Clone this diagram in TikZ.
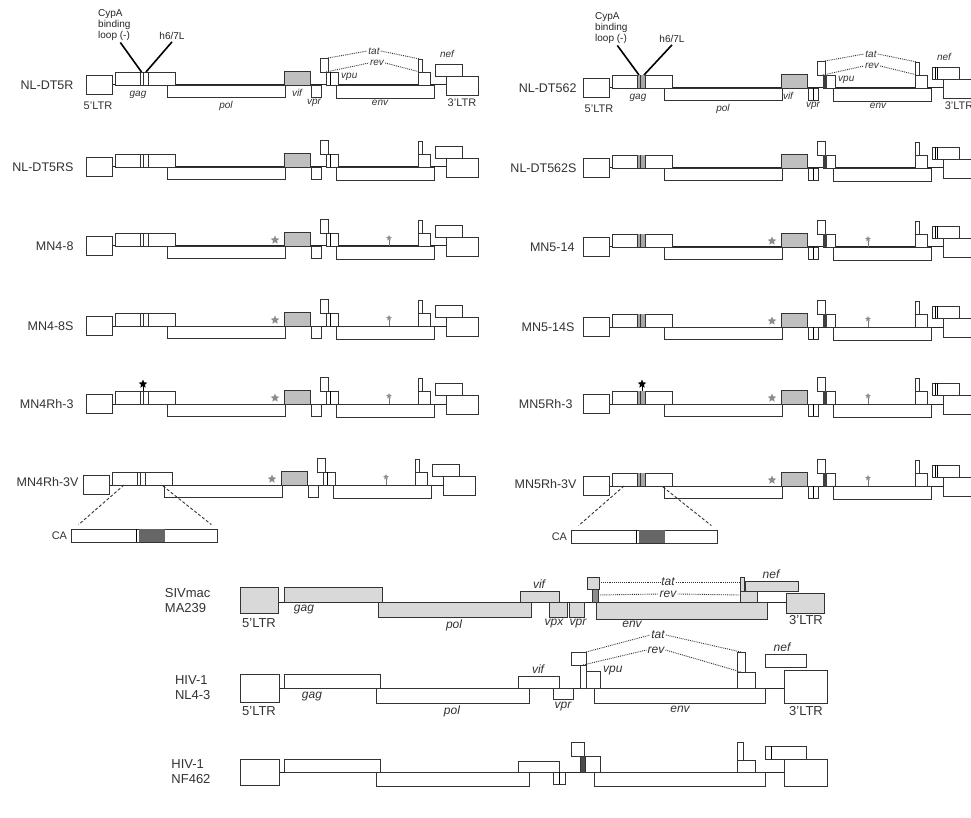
\documentclass[tikz,border=0pt]{standalone}
\usepackage{fontspec}
\setmainfont{Liberation Sans}
\usetikzlibrary{shapes.geometric, positioning}

% genome map of the upper panels: origin at the 5'LTR, baseline at y=0
% #1 = 0 for the NL4-3 type, 1 for the NL-DT562 type
\newcommand\hivmap[1]{%
  \draw[backbone] (26,0) -- (360,0);
  \draw[orf] (0,-10) rectangle (26,9);
  \draw[orf] (29,-13) rectangle (89,0);
  \ifnum#1=1 \fill[black!35] (55,-13) rectangle (62,0); \fi
  \draw[thin, black!80] (54,-13) -- (54,0) (57,-13) -- (57,0) (62,-13) -- (62,0);
  \draw[orf] (81,0) rectangle (199,12);
  \draw[orfgray] (198,-14) rectangle (224,0);
  \draw[orf] (225,0) rectangle (235,12);
  \ifnum#1=1 \draw[thin] (230,0) -- (230,12); \fi
  \draw[orf] (234,-27) rectangle (242,-13);
  \draw[orf] (240,-13) rectangle (252,0);
  \ifnum#1=1 \fill[black!75] (240,-13) rectangle (243.5,0); \else \draw[thin] (244,-13) -- (244,0); \fi
  \draw[orf] (250,0) rectangle (348,13);
  \draw[orf] (332,-26) rectangle (336,-13);
  \draw[orf] (332,-13) rectangle (344,0);
  \draw[orf] (349,-21) rectangle (376,-9);
  \ifnum#1=1 \draw[thin] (352,-21) -- (352,-9) (354.5,-21) -- (354.5,-9); \fi
  \draw[orf] (360,-9) rectangle (392,10);
}
% adaptive changes in pol and env
\newcommand\adaptmarks[1]{%
  \node[gstar] (polmark) at (189,-6) {};
  \draw[black!55, line width=0.8pt] (#1,-6) -- (#1,0);
  \node[gstar, minimum size=6pt] (envmark) at (#1,-8) {};
}
% CypA binding loop change
\newcommand\loopmark[1]{%
  \draw[black, line width=1pt] (#1,-13) -- (#1,-18);
  \node[bstar] (loopstar) at (#1,-20) {};
}
% capsid blow-up under the gag box
\newcommand\capsid{%
  \node[cabox] (cabox) at (61,50.5) {};
  \fill[black!60] (56,44) rectangle (82,57);
  \draw[thin] (53,44) -- (53,57);
  \node[rowname, font=\fontsize{11}{13}\selectfont] (calbl) at (cabox.west) {CA};
  \coordinate (caleft) at (41,0);
  \coordinate (caright) at (80,1);
  \draw[zoomline] (caleft) -- ([shift={(8,-4)}]cabox.north west);
  \draw[zoomline] (caright) -- ([shift={(-6,-4)}]cabox.north east);
}

\begin{document}
\begin{tikzpicture}[x=1pt, y=-1pt,
  backbone/.style={draw=black!85, line width=1pt},
  orf/.style={draw=black!80, line width=0.9pt, fill=white},
  orfgray/.style={orf, fill=black!25},
  sivorf/.style={orf, fill=black!15},
  cabox/.style={draw=black!80, line width=0.8pt, minimum width=146pt, minimum height=13pt, inner sep=0pt},
  rowname/.style={anchor=east, font=\fontsize{12.5}{14}\selectfont, text=black!80},
  bigname/.style={anchor=east, align=left, font=\fontsize{13}{15}\selectfont, text=black!80},
  gene/.style={font=\fontsize{10}{12}\selectfont\itshape, text=black!80, inner sep=1pt},
  ltr/.style={font=\fontsize{11}{13}\selectfont, text=black!80, inner sep=1pt},
  biggene/.style={font=\fontsize{12}{14}\selectfont\itshape, text=black!80, inner sep=1pt},
  bigltr/.style={font=\fontsize{13}{15}\selectfont, text=black!80, inner sep=1pt},
  note/.style={font=\fontsize{10}{11}\selectfont, text=black!85, inner sep=0pt},
  splice/.style={densely dotted, line width=0.9pt, draw=black!80},
  zoomline/.style={densely dashed, line width=0.9pt, draw=black!80},
  pointer/.style={line width=1.6pt, draw=black},
  gstar/.style={star, star points=5, star point ratio=2.2, fill=black!45, minimum size=9pt, inner sep=0pt},
  bstar/.style={star, star points=5, star point ratio=2.2, fill=black, minimum size=9pt, inner sep=0pt}]

  \fill[white] (0,0) rectangle (971,818);
  \clip (0,0) rectangle (971,818);

  % ---- left column ----
  \begin{scope}[shift={(86,85)}]
    \hivmap{0}
    \node[rowname] (nldtfiver) at (-9,0) {NL-DT5R};
    \node[note, align=left, anchor=north west] (cypa) at (12,-76) {CypA\\binding\\loop (-)};
    \node[note] (helix) at (86,-49) {h6/7L};
    \draw[pointer] ([xshift=6pt,yshift=-2pt]cypa.south) -- (55.5,-13);
    \draw[pointer] ([yshift=-2pt]helix.south) -- (60,-13);
    \node[ltr] (fltr) at (12,21) {5'LTR};
    \node[gene] (gag) at (52,10) {gag};
    \node[gene] (pol) at (140,21) {pol};
    \node[gene] (vif) at (211,8) {vif};
    \node[gene] (vpr) at (228,18) {vpr};
    \node[gene] (env) at (294,18) {env};
    \node[ltr] (tltr) at (376,18) {3'LTR};
    \node[gene, anchor=west] (vpu) at (254,-8) {vpu};
    \node[gene] (tat) at (288,-34) {tat};
    \node[gene] (rev) at (291,-22) {rev};
    \node[gene] (nef) at (361,-31) {nef};
    \draw[splice] (242,-27) -- (tat.west);
    \draw[splice] (tat.east) -- (334,-26);
    \draw[splice] (240,-13) -- (rev.west);
    \draw[splice] (rev.east) -- (334,-13);
  \end{scope}

  \begin{scope}[shift={(86,167)}]
    \hivmap{0}
    \node[rowname] (nldtfivers) at (-9,0) {NL-DT5RS};
  \end{scope}

  \begin{scope}[shift={(86,246)}]
    \hivmap{0}
    \adaptmarks{303}
    \node[rowname] (mnfoureight) at (-9,0) {MN4-8};
  \end{scope}

  \begin{scope}[shift={(86,326)}]
    \hivmap{0}
    \adaptmarks{303}
    \node[rowname] (mnfoureights) at (-9,0) {MN4-8S};
  \end{scope}

  \begin{scope}[shift={(86,404)}]
    \hivmap{0}
    \adaptmarks{303}
    \loopmark{57}
    \node[rowname] (mnfourrh) at (-9,0) {MN4Rh-3};
  \end{scope}

  \begin{scope}[shift={(83,485)}]
    \hivmap{0}
    \adaptmarks{303}
    \capsid
    \node[rowname] (mnfourrhv) at (-1,-3) {MN4Rh-3V};
  \end{scope}

  % ---- right column ----
  \begin{scope}[shift={(583,88)}]
    \hivmap{1}
    \node[rowname] (nldtfsix) at (-3,0) {NL-DT562};
    \node[note, align=left, anchor=north west] (cypb) at (12,-76) {CypA\\binding\\loop (-)};
    \node[note] (helixb) at (89,-49) {h6/7L};
    \draw[pointer] ([xshift=6pt,yshift=-2pt]cypb.south) -- (56,-13);
    \draw[pointer] ([yshift=-2pt]helixb.south) -- (61,-13);
    \node[ltr] (fltrb) at (16,21) {5'LTR};
    \node[gene] (gagb) at (55,10) {gag};
    \node[gene] (polb) at (140,21) {pol};
    \node[gene] (vifb) at (205,8) {vif};
    \node[gene] (vprb) at (230,18) {vpr};
    \node[gene] (envb) at (295,18) {env};
    \node[ltr] (tltrb) at (376,18) {3'LTR};
    \node[gene, anchor=west] (vpub) at (254,-8) {vpu};
    \node[gene] (tatb) at (288,-34) {tat};
    \node[gene] (revb) at (289,-22) {rev};
    \node[gene] (nefb) at (361,-31) {nef};
    \draw[splice] (242,-27) -- (tatb.west);
    \draw[splice] (tatb.east) -- (334,-26);
    \draw[splice] (240,-13) -- (revb.west);
    \draw[splice] (revb.east) -- (334,-13);
  \end{scope}

  \begin{scope}[shift={(583,168)}]
    \hivmap{1}
    \node[rowname] (nldtfsixs) at (-3,0) {NL-DT562S};
  \end{scope}

  \begin{scope}[shift={(583,247)}]
    \hivmap{1}
    \adaptmarks{285}
    \node[rowname] (mnfivefourteen) at (-5,0) {MN5-14};
  \end{scope}

  \begin{scope}[shift={(583,327)}]
    \hivmap{1}
    \adaptmarks{285}
    \node[rowname] (mnfivefourteens) at (-5,0) {MN5-14S};
  \end{scope}

  \begin{scope}[shift={(583,404)}]
    \hivmap{1}
    \adaptmarks{285}
    \loopmark{59}
    \node[rowname] (mnfiverh) at (-7,0) {MN5Rh-3};
  \end{scope}

  \begin{scope}[shift={(583,486)}]
    \hivmap{1}
    \adaptmarks{285}
    \capsid
    \node[rowname] (mnfiverhv) at (-3,-2) {MN5Rh-3V};
  \end{scope}

  % ---- SIVmac MA239 ----
  \begin{scope}[shift={(240,602)}]
    \draw[backbone] (38,0) -- (546,0);
    \draw[sivorf] (0,-15) rectangle (38,11);
    \draw[sivorf] (44,-15) rectangle (142,0);
    \draw[sivorf] (138,0) rectangle (291,15);
    \draw[sivorf] (280,-11) rectangle (319,0);
    \draw[sivorf] (309,0) rectangle (327,15);
    \draw[sivorf] (329,0) rectangle (344,15);
    \draw[sivorf] (347,-25) rectangle (359,-13);
    \draw[sivorf, fill=black!45] (352,-13) rectangle (358,0);
    \draw[sivorf] (356,0) rectangle (527,17);
    \draw[sivorf] (500,-25) rectangle (504,-11);
    \draw[sivorf] (500,-11) rectangle (517,0);
    \draw[sivorf] (505,-21) rectangle (558,-11);
    \draw[sivorf] (546,-9) rectangle (584,11);
    \node[bigname] (sivname) at (-26,-1) {SIVmac\\MA239};
    \node[bigltr, anchor=north] (sfltr) at (19,15) {5'LTR};
    \node[biggene, anchor=north] (sgag) at (64,2) {gag};
    \node[biggene, anchor=north] (spol) at (214,17) {pol};
    \node[biggene, anchor=north] (svpx) at (314,16) {vpx};
    \node[biggene, anchor=north] (svpr) at (338,16) {vpr};
    \node[biggene, anchor=north] (senv) at (392,18) {env};
    \node[bigltr, anchor=north] (stltr) at (566,12) {3'LTR};
    \node[biggene, anchor=south] (svif) at (299,-12) {vif};
    \node[biggene, anchor=south] (snef) at (531,-22) {nef};
    \node[biggene] (stat) at (428,-20) {tat};
    \node[biggene] (srev) at (428,-8) {rev};
    \draw[splice] (359,-20) -- (stat.west);
    \draw[splice] (stat.east) -- (500,-20);
    \draw[splice] (358,-7) -- (srev.west);
    \draw[splice] (srev.east) -- (500,-7);
  \end{scope}

  % ---- HIV-1 NL4-3 ----
  \begin{scope}[shift={(240,688)}]
    \draw[backbone] (39,0) -- (544,0);
    \draw[orf] (0,-14) rectangle (39,14);
    \draw[orf] (44,-14) rectangle (140,0);
    \draw[orf] (136,0) rectangle (289,15);
    \draw[orf] (278,-12) rectangle (319,0);
    \draw[orf] (313,0) rectangle (333,11);
    \draw[orf] (331,-36) rectangle (346,-23);
    \draw[orf] (340,-23) rectangle (346,0);
    \draw[orf] (346,-17) rectangle (360,0);
    \draw[orf] (354,0) rectangle (525,15);
    \draw[orf] (497,-36) rectangle (505,-16);
    \draw[orf] (497,-16) rectangle (515,0);
    \draw[orf] (525,-34) rectangle (566,-21);
    \draw[orf] (544,-18) rectangle (587,15);
    \node[bigname] (nlname) at (-26,0) {HIV-1\\NL4-3};
    \node[bigltr, anchor=north] (nfltr) at (19,17) {5'LTR};
    \node[biggene, anchor=north] (ngag) at (72,3) {gag};
    \node[biggene, anchor=north] (npol) at (212,17) {pol};
    \node[biggene, anchor=north] (nvpr) at (323,13) {vpr};
    \node[biggene, anchor=north] (nenv) at (440,17) {env};
    \node[bigltr, anchor=north] (ntltr) at (566,17) {3'LTR};
    \node[biggene, anchor=south] (nvif) at (298,-13) {vif};
    \node[biggene, anchor=west] (nvpu) at (362,-17) {vpu};
    \node[biggene, anchor=south] (nnef) at (542,-35) {nef};
    \node[biggene] (ntat) at (418,-53) {tat};
    \node[biggene] (nrev) at (416,-38) {rev};
    \draw[splice] (346,-36) -- (ntat.west);
    \draw[splice] (ntat.east) -- (501,-36);
    \draw[splice] (343,-23) -- (nrev.west);
    \draw[splice] (nrev.east) -- (501,-16);
  \end{scope}

  % ---- HIV-1 NF462 ----
  \begin{scope}[shift={(240,772)}]
    \draw[backbone] (39,0) -- (544,0);
    \draw[orf] (0,-13) rectangle (39,13);
    \draw[orf] (44,-13) rectangle (140,0);
    \draw[orf] (136,0) rectangle (289,14);
    \draw[orf] (278,-11) rectangle (319,0);
    \draw[orf] (313,0) rectangle (325,12);
    \draw[thin] (319,0) -- (319,12);
    \draw[orf] (331,-30) rectangle (344,-16);
    \draw[orf, fill=black!70] (340,-16) rectangle (345,0);
    \draw[orf] (345,-16) rectangle (360,0);
    \draw[orf] (354,0) rectangle (525,14);
    \draw[orf] (497,-30) rectangle (503,-12);
    \draw[orf] (497,-12) rectangle (515,0);
    \draw[orf] (525,-26) rectangle (566,-13);
    \draw[thin] (531,-26) -- (531,-13);
    \draw[orf] (544,-13) rectangle (587,14);
    \node[bigname] (nfname) at (-26,0) {HIV-1\\NF462};
  \end{scope}
\end{tikzpicture}
\end{document}
